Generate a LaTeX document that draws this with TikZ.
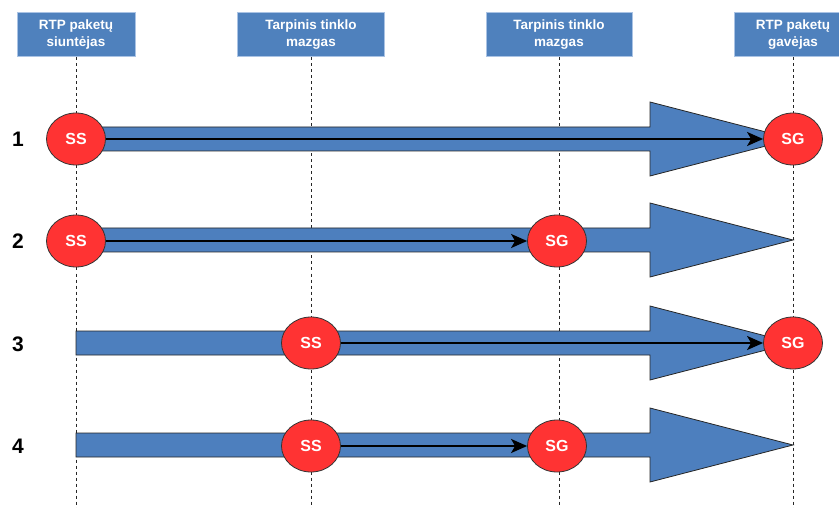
\documentclass[tikz,border=0pt]{standalone}
\usepackage{fontspec}
\setmainfont{Liberation Sans}
\usetikzlibrary{shapes.geometric,arrows.meta}
\definecolor{hdrblue}{RGB}{79,129,189}
\definecolor{hdredge}{RGB}{170,195,228}
\definecolor{flowblue}{RGB}{77,127,190}
\definecolor{nodered}{RGB}{255,51,51}

% block arrow along a row: #1 = start x, #2 = row y
\newcommand\flowarrow[2]{%
  \path[flow] ({#1},{#2-12}) -- (650,{#2-12}) -- (650,{#2-37}) -- (793,{#2})
    -- (650,{#2+37}) -- (650,{#2+12}) -- ({#1},{#2+12}) -- cycle;}

\begin{document}
\begin{tikzpicture}[x=1pt,y=-1pt,
  header/.style={draw=hdredge, fill=hdrblue, line width=1pt, minimum height=44pt,
    minimum width=118pt, inner sep=0pt, text=white, align=center,
    font=\bfseries\fontsize{13.5}{17}\selectfont},
  lifeline/.style={black!85, line width=0.8pt, dash pattern=on 3pt off 3pt},
  endpoint/.style={ellipse, draw=black!80, line width=0.8pt, fill=nodered,
    minimum width=59pt, minimum height=52pt, inner sep=0pt, text=white,
    font=\bfseries\fontsize{16}{16}\selectfont},
  flow/.style={fill=flowblue, draw=black!85, line width=0.8pt},
  pointer/.style={line width=2pt, -{Stealth[length=16pt, width=14pt, inset=4pt]}},
  rowno/.style={font=\bfseries\fontsize{21}{21}\selectfont}]

\useasboundingbox (0,0) rectangle (839,508);
\clip (0,0) rectangle (839,508);

% participants
\node[header] (h1) at (76,35) {RTP paketų\\siuntėjas};
\node[header, minimum width=147pt] (h2) at (311,35) {Tarpinis tinklo\\mazgas};
\node[header, minimum width=146pt] (h3) at (559,35) {Tarpinis tinklo\\mazgas};
\node[header] (h4) at (793,35) {RTP paketų\\gavėjas};

% lifelines
\coordinate (b1) at (76,508);
\coordinate (b2) at (311,508);
\coordinate (b3) at (559,508);
\coordinate (b4) at (793,508);
\draw[lifeline] (h1.south) -- (b1);
\draw[lifeline] (h2.south) -- (b2);
\draw[lifeline] (h3.south) -- (b3);
\draw[lifeline] (h4.south) -- (b4);

% block arrows
\flowarrow{76}{139}
\flowarrow{76}{240}
\flowarrow{76}{343}
\flowarrow{76}{445}

% row numbers
\node[rowno] (r1) at (18,139) {1};
\node[rowno] (r2) at (18,241) {2};
\node[rowno] (r3) at (18,344) {3};
\node[rowno] (r4) at (18,446) {4};

% session endpoints
\node[endpoint] (ss1) at (76,139) {SS};
\node[endpoint] (sg1) at (793,139) {SG};
\node[endpoint] (ss2) at (76,241) {SS};
\node[endpoint] (sg2) at (557,241) {SG};
\node[endpoint] (ss3) at (311,343) {SS};
\node[endpoint] (sg3) at (793,343) {SG};
\node[endpoint] (ss4) at (311,446) {SS};
\node[endpoint] (sg4) at (557,446) {SG};

% session paths
\draw[pointer] (ss1) -- (sg1);
\draw[pointer] (ss2) -- (sg2);
\draw[pointer] (ss3) -- (sg3);
\draw[pointer] (ss4) -- (sg4);
\end{tikzpicture}
\end{document}
